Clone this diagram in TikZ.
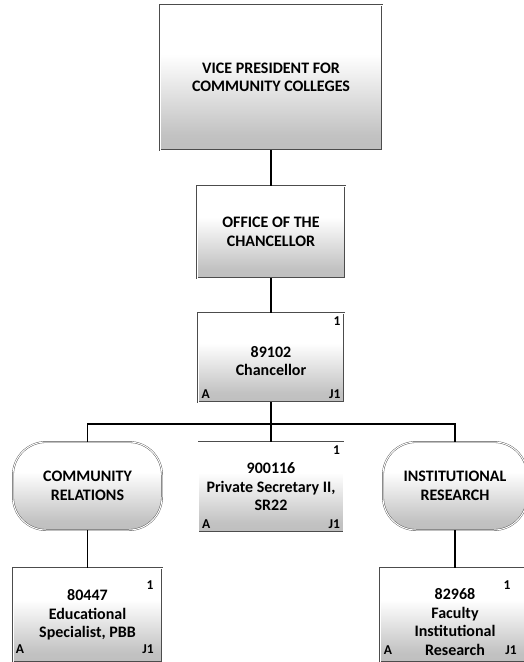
\documentclass[tikz,border=0pt]{standalone}
\usepackage{fontspec}
\setmainfont{Carlito}
\usetikzlibrary{positioning}

\pgfdeclareverticalshading{boxfill}{100bp}{color(0bp)=(black!30); color(30bp)=(black!24); color(58bp)=(white); color(100bp)=(white)}

\tikzset{
  orgbox/.style={draw=black!70, double=white, double distance=1pt, shading=boxfill, align=center, inner sep=2pt, font=\bfseries\fontsize{16}{18.5}\selectfont},
  unitbox/.style={orgbox, rounded corners=33pt},
  boxtext/.style={align=center, inner sep=0pt, font=\bfseries\fontsize{16}{18.5}\selectfont},
  corner/.style={font=\bfseries\fontsize{13.5}{14}\selectfont, inner sep=3.5pt},
  link/.style={draw=black, line width=1.4pt}
}

\begin{document}
\begin{tikzpicture}[x=1pt,y=1pt,yscale=-1,xscale=1]
\useasboundingbox (0,0) rectangle (523,662);

%Boxes
\node [orgbox, minimum width=222, minimum height=145] (vp) at (271,77.5) {VICE PRESIDENT FOR\\COMMUNITY COLLEGES};
\node [orgbox, minimum width=148, minimum height=92] (office) at (271,232) {OFFICE OF THE\\CHANCELLOR};
\node [orgbox, minimum width=146, minimum height=89] (chan) at (271,357.5) {};
\node [orgbox, minimum width=145, minimum height=90] (psec) at (271,487) {900116\\Private Secretary II,\\SR22};
\node [unitbox, minimum width=149, minimum height=88] (comrel) at (87.5,486) {COMMUNITY\\RELATIONS};
\node [unitbox, minimum width=144, minimum height=88] (instres) at (455,486) {INSTITUTIONAL\\RESEARCH};
\node [orgbox, minimum width=149, minimum height=94] (edspec) at (87.5,615) {80447\\Educational\\Specialist, PBB};
\node [orgbox, minimum width=150, minimum height=94] (faculty) at (455,615) {};

% Text Node
\node [boxtext] (chantext) at (271,361) {89102\\Chancellor};
\node [boxtext] (facultytext) at (455,622) {82968\\Faculty\\Institutional\\Research};

%Corner labels
\node [corner, anchor=north east] (chan1) at (chan.north east) {1};
\node [corner, anchor=south west] (chanA) at (chan.south west) {A};
\node [corner, anchor=south east] (chanJ) at (chan.south east) {J1};
\node [corner, anchor=north east] (psec1) at (psec.north east) {1};
\node [corner, anchor=south west] (psecA) at (psec.south west) {A};
\node [corner, anchor=south east] (psecJ) at (psec.south east) {J1};
\node [corner] (edspec1) at (150,585) {1};
\node [corner] (edspecA) at (20,649) {A};
\node [corner] (edspecJ) at (148,649) {J1};
\node [corner] (faculty1) at (507,585) {1};
\node [corner] (facultyA) at (388,650) {A};
\node [corner] (facultyJ) at (511,650) {J1};

%Connectors
\draw [link] (vp.south) -- (office.north);
\draw [link] (office.south) -- (chan.north);
\draw [link] (chan.south) -- (psec.north);
\draw [link] (comrel.north) -- ++(0,-18) -| (instres.north);
\draw [link] (comrel.south) -- (edspec.north);
\draw [link] (instres.south) -- (faculty.north);

\end{tikzpicture}
\end{document}
